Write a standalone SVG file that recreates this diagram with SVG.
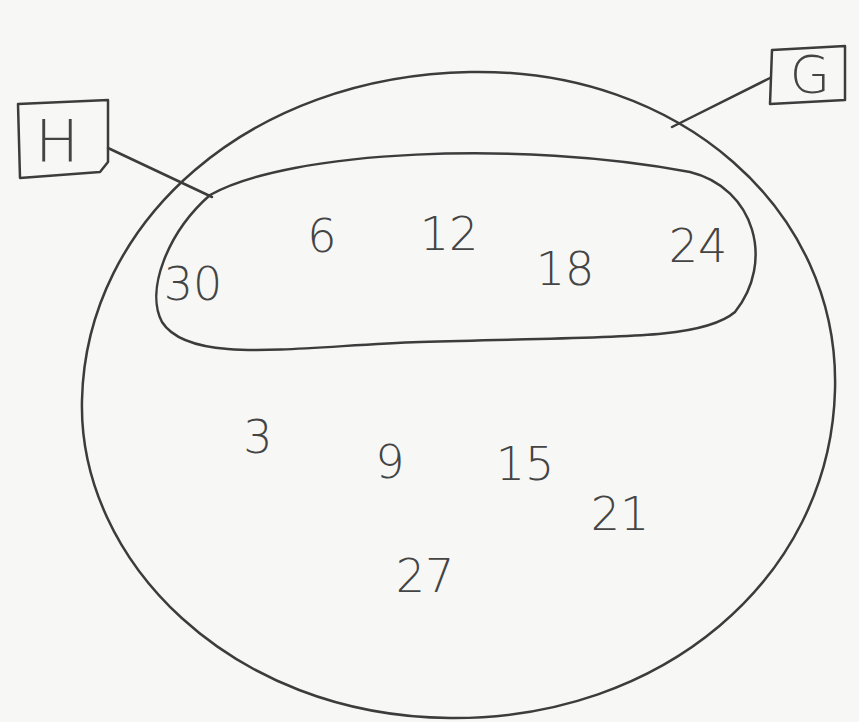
<svg xmlns="http://www.w3.org/2000/svg" width="859" height="722" viewBox="0 0 859 722">
<style>
.ln{fill:none;stroke:#3c3c3c;stroke-width:2.5;stroke-linecap:round;stroke-linejoin:round}
.t{font-family:"DejaVu Sans","Liberation Sans",sans-serif;font-weight:300;fill:#444;text-anchor:middle}
.n{font-size:46px}
</style>
<rect width="859" height="722" fill="#f7f7f5"/>
<g id="G-set">
<path class="ln" d="M 470,72 C 680,68 840,210 835,390 C 830,580 660,720 450,718 C 230,716 78,560 82,400 C 86,220 250,76 470,72 Z"/>
</g>
<g id="H-set">
<path class="ln" d="M 210,195 C 290,150 520,140 690,172 C 755,188 775,262 735,312 C 700,342 600,336 420,342 C 300,346 190,366 162,322 C 145,290 168,232 210,195 Z"/>
</g>
<g id="connectors">
<path class="ln" d="M 108,148 L 212,197"/>
<path class="ln" d="M 770,78 L 672,127"/>
</g>
<g id="label-H">
<path class="ln" d="M 18,104 L 108,100 L 108,162 L 100,172 L 20,178 Z"/>
<text class="t" x="57" y="162" font-size="58">H</text>
</g>
<g id="label-G">
<path class="ln" d="M 772,50 L 845,46 L 845,100 L 770,104 Z"/>
<text class="t" x="810" y="93" font-size="52">G</text>
</g>
<g id="numbers" class="t n">
<text x="193" y="300">30</text>
<text x="322" y="252">6</text>
<text x="449" y="250">12</text>
<text x="565" y="285">18</text>
<text x="698" y="262">24</text>
<text x="258" y="453">3</text>
<text x="390" y="478">9</text>
<text x="525" y="480">15</text>
<text x="620" y="530">21</text>
<text x="425" y="592">27</text>
</g>
</svg>
